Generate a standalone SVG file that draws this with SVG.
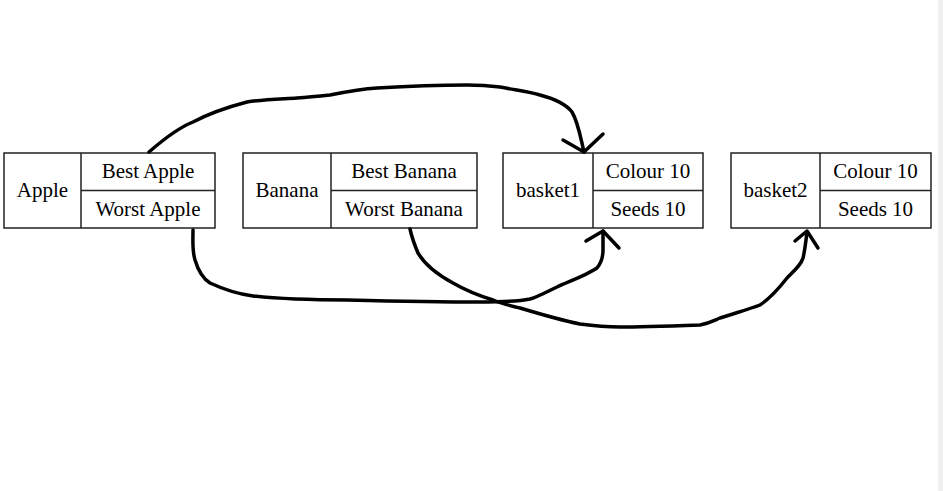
<svg xmlns="http://www.w3.org/2000/svg" width="943" height="491" viewBox="0 0 943 491">
<style>
.box{fill:#fff;stroke:#222;stroke-width:1.5}
.ln{stroke:#222;stroke-width:1.5}
text{font-family:"Liberation Serif","Times New Roman",serif;font-size:21px;fill:#000;text-anchor:middle}
.c{fill:none;stroke:#000;stroke-width:3.5;stroke-linecap:round;stroke-linejoin:round}
</style>
<rect x="0" y="0" width="943" height="491" fill="#fff"/>
<rect x="938" y="0" width="5" height="491" fill="#f0f0f0"/>
<g id="apple">
<rect class="box" x="4" y="153" width="211" height="75"/>
<line class="ln" x1="81" y1="153" x2="81" y2="228"/>
<line class="ln" x1="81" y1="190.5" x2="215" y2="190.5"/>
<text x="42.5" y="197">Apple</text>
<text x="148" y="178">Best Apple</text>
<text x="148" y="216">Worst Apple</text>
</g>
<g id="banana">
<rect class="box" x="243" y="153" width="234" height="75"/>
<line class="ln" x1="331" y1="153" x2="331" y2="228"/>
<line class="ln" x1="331" y1="190.5" x2="477" y2="190.5"/>
<text x="287" y="197">Banana</text>
<text x="404" y="178">Best Banana</text>
<text x="404" y="216">Worst Banana</text>
</g>
<g id="basket1">
<rect class="box" x="503" y="153" width="200" height="75"/>
<line class="ln" x1="593" y1="153" x2="593" y2="228"/>
<line class="ln" x1="593" y1="190.5" x2="703" y2="190.5"/>
<text x="548" y="197">basket1</text>
<text x="648" y="178">Colour 10</text>
<text x="648" y="216">Seeds 10</text>
</g>
<g id="basket2">
<rect class="box" x="731" y="153" width="200" height="75"/>
<line class="ln" x1="820" y1="153" x2="820" y2="228"/>
<line class="ln" x1="820" y1="190.5" x2="931" y2="190.5"/>
<text x="775.5" y="197">basket2</text>
<text x="875.5" y="178">Colour 10</text>
<text x="875.5" y="216">Seeds 10</text>
</g>
<g id="connectors">
<path class="c" d="M149,152 C165,138 178,128 193,122 C210,113 228,107 247,102 C265,99 282,99 297,98 C310,97 320,96 330,95 C345,92 360,89 377,88 C410,86 440,85 467,85 C480,85 492,86 500,87 C515,90 530,92 540,95 C555,99 566,104 572,112 C578,122 580,135 584,152"/>
<path class="c" d="M563,140 L584,152 L603,134"/>
<path class="c" d="M193,230 C193,240 192,250 195,260 C198,270 202,278 210,283 C225,290 238,294 253,296 C280,299 310,300 347,300 C390,301 440,302 480,302 C505,302 520,301 530,299 C540,296 548,291 557,287 C570,281 585,276 597,268 C602,262 603,256 603,250 C603,243 603,236 603,231"/>
<path class="c" d="M586,241 L603,231 L619,248"/>
<path class="c" d="M410,229 C412,238 415,246 418,253 C425,265 440,276 453,283 C465,290 480,296 493,300 C502,304 512,306 520,308 C540,314 560,320 580,324 C595,326 608,327 620,327 C640,327 670,326 700,325 C710,323 715,320 720,318 C735,313 750,309 760,305 C772,297 780,287 787,278 C795,270 801,265 803,258 C805,250 806,240 807,232"/>
<path class="c" d="M795,241 L807,231 L818,248"/>
</g>
</svg>
